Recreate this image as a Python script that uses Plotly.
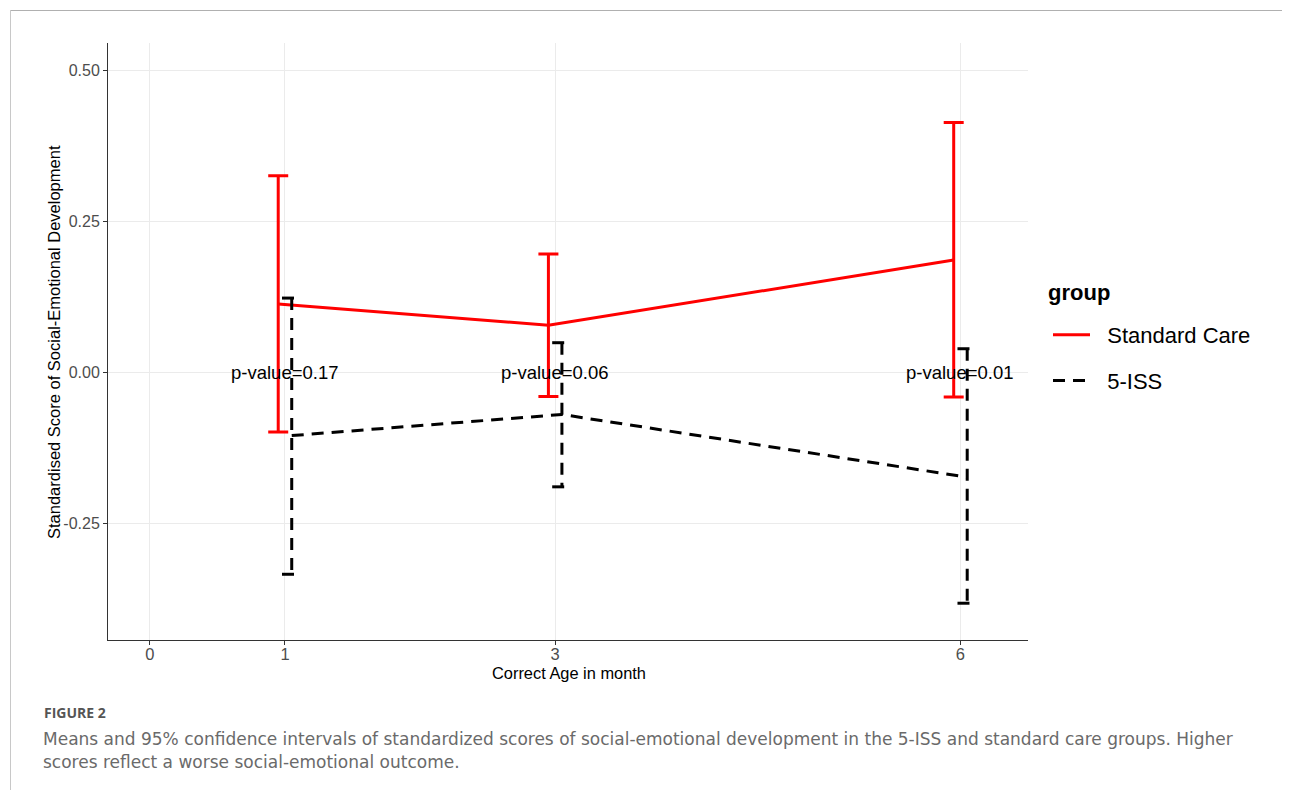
import plotly.graph_objects as go

# ---- data ----
months = [1, 3, 6]
groups = ["Standard Care", "5-ISS"]
sc_mean = [0.113, 0.078, 0.186]
sc_upper = [0.326, 0.196, 0.414]
sc_lower = [-0.099, -0.040, -0.041]
iss_mean = [-0.105, -0.070, -0.174]
iss_upper = [0.123, 0.049, 0.039]
iss_lower = [-0.335, -0.190, -0.383]
p_labels = ["p-value=0.17", "p-value=0.06", "p-value=0.01"]
x_ticks = [0, 1, 3, 6]
y_ticks = [0.50, 0.25, 0.00, -0.25]

dodge = 0.05
cap = 0.072

ARIAL = "Liberation Sans, Arial, sans-serif"
NB = "\u00a0\u00a0"
OFF = 8  # page body margin
W, H = 1290 - OFF, 790 - OFF
L, R, T, B = 108 - OFF, 1028 - OFF, 43 - OFF, 640 - OFF

def px_x(p):  # screen px -> paper
    return (p - OFF - L) / (R - L)

def px_y(p):
    return (B - (p - OFF)) / (B - T)

sc_x = [m - dodge for m in months]
iss_x = [m + dodge for m in months]

fig = go.Figure()

fig.add_trace(go.Scatter(
    x=sc_x, y=sc_mean, mode="lines", name=NB + groups[0],
    line=dict(color="#FF0000", width=3),
    error_y=dict(type="data", symmetric=False,
                 array=[u - m for u, m in zip(sc_upper, sc_mean)],
                 arrayminus=[m - l for l, m in zip(sc_lower, sc_mean)],
                 color="#FF0000", thickness=3, width=10),
    legendgroup="a",
))

fig.add_trace(go.Scatter(
    x=iss_x, y=iss_mean, mode="lines", name=NB + groups[1],
    line=dict(color="#000000", width=3, dash="12px,8px"),
    legendgroup="b",
))

ex, ey = [], []
for xx, lo, hi in zip(iss_x, iss_lower, iss_upper):
    ex += [xx - cap, xx + cap, None, xx, xx, None, xx - cap, xx + cap, None]
    ey += [hi, hi, None, hi, lo, None, lo, lo, None]
fig.add_trace(go.Scatter(
    x=ex, y=ey, mode="lines", showlegend=False, hoverinfo="skip",
    line=dict(color="#000000", width=3, dash="12px,8px"),
    connectgaps=False, legendgroup="b",
))

for m, t in zip(months, p_labels):
    fig.add_annotation(x=m, y=0, text=t, showarrow=False,
                       font=dict(family=ARIAL, size=18.5, color="#000000"),
                       xanchor="center", yanchor="middle")

# axis titles
fig.add_annotation(xref="paper", yref="paper", x=px_x(569), y=px_y(673),
                   text="Correct Age in month", showarrow=False,
                   xanchor="center", yanchor="middle",
                   font=dict(family=ARIAL, size=16.4, color="#000000"))
fig.add_annotation(xref="paper", yref="paper", x=px_x(53.5), y=px_y(342.5),
                   text="Standardised Score of Social-Emotional Development",
                   showarrow=False, textangle=-90,
                   xanchor="center", yanchor="middle",
                   font=dict(family=ARIAL, size=16.5, color="#000000"))

# legend title
fig.add_annotation(xref="paper", yref="paper", x=px_x(1046), y=px_y(292),
                   text="<b>group</b>", showarrow=False, xanchor="left", yanchor="middle",
                   font=dict(family=ARIAL, size=22, color="#000000"))

# captions
fig.add_annotation(xref="paper", yref="paper", x=px_x(42), y=px_y(712),
                   text="<b>FIGURE 2</b>", showarrow=False, xanchor="left", yanchor="middle",
                   font=dict(family="Open Sans", size=14, color="#555555"))
fig.add_annotation(xref="paper", yref="paper", x=px_x(41), y=px_y(739),
                   text="Means and 95% confidence intervals of standardized scores of social-emotional development in the 5-ISS and standard care groups. Higher",
                   showarrow=False, xanchor="left", yanchor="middle",
                   font=dict(family="DejaVu Sans", size=17, color="#6A6A6A"))
fig.add_annotation(xref="paper", yref="paper", x=px_x(41), y=px_y(762),
                   text="scores reflect a worse social-emotional outcome.",
                   showarrow=False, xanchor="left", yanchor="middle",
                   font=dict(family="DejaVu Sans", size=17, color="#6A6A6A"))

# frame lines
fig.add_shape(type="line", xref="paper", yref="paper",
              x0=px_x(10), x1=px_x(1290), y0=px_y(10.5), y1=px_y(10.5),
              line=dict(color="#B0B0B0", width=1))
fig.add_shape(type="line", xref="paper", yref="paper",
              x0=px_x(10.5), x1=px_x(10.5), y0=px_y(10), y1=px_y(790),
              line=dict(color="#C8C8C8", width=1))

fig.update_layout(
    width=W, height=H,
    margin=dict(l=L, r=W - R, t=T, b=H - B),
    plot_bgcolor="white", paper_bgcolor="white",
    font=dict(family=ARIAL, color="#000000"),
    showlegend=True,
    legend=dict(
        font=dict(family=ARIAL, size=22, color="#000000"),
        x=px_x(1048), y=px_y(314), xanchor="left", yanchor="top",
        tracegroupgap=14, itemwidth=37,
        bgcolor="rgba(0,0,0,0)",
    ),
    xaxis=dict(
        range=[-0.31, 6.5], tickmode="array", tickvals=x_ticks,
        ticktext=[str(v) for v in x_ticks],
        showgrid=True, gridcolor="#EBEBEB", gridwidth=1,
        showline=True, linecolor="#333333", linewidth=1,
        ticks="outside", ticklen=4, tickcolor="#333333",
        ticklabelstandoff=-5,
        tickfont=dict(family=ARIAL, size=16.5, color="#4D4D4D"),
        zeroline=False,
    ),
    yaxis=dict(
        range=[-0.444, 0.546], tickmode="array", tickvals=y_ticks,
        ticktext=["%.2f" % v for v in y_ticks],
        showgrid=True, gridcolor="#EBEBEB", gridwidth=1,
        showline=True, linecolor="#333333", linewidth=1,
        ticks="outside", ticklen=4, tickcolor="#333333",
        tickfont=dict(family=ARIAL, size=16, color="#4D4D4D"),
        zeroline=False,
    ),
)

fig.write_html("out.html")
